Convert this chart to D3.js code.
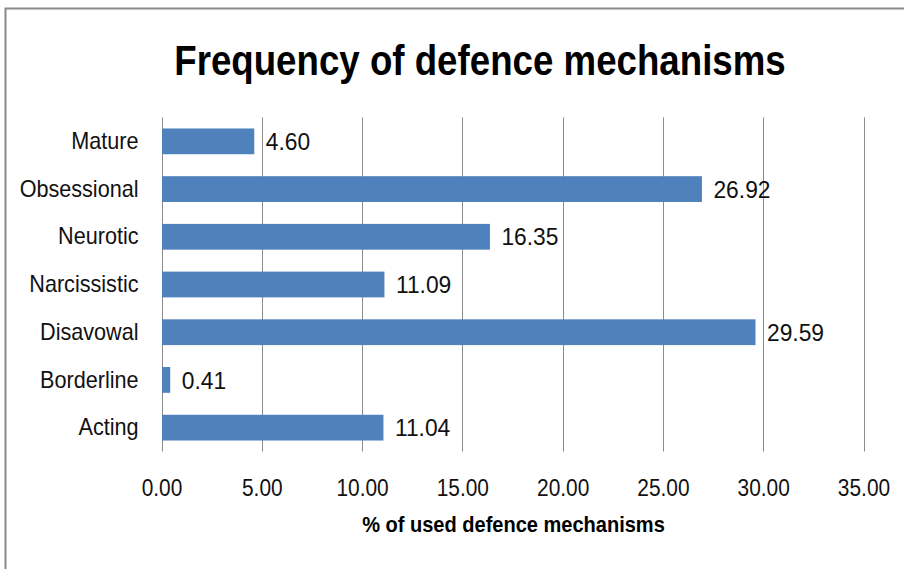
<!DOCTYPE html>
<html><head><meta charset="utf-8">
<script src="https://cdn.jsdelivr.net/npm/d3@7"></script>
<style>
html,body{margin:0;padding:0;background:#fff;}
text{font-family:"Liberation Sans Narrow","Arial Narrow","Liberation Sans",sans-serif;}
</style></head>
<body><svg id="c" width="904" height="569"></svg>
<script>
const categories = ["Mature","Obsessional","Neurotic","Narcissistic","Disavowal","Borderline","Acting"];
const values = [4.60, 26.92, 16.35, 11.09, 29.59, 0.41, 11.04];
const xTicks = [0,5,10,15,20,25,30,35];
const titleText = "Frequency of defence mechanisms";
const xTitle = "% of used defence mechanisms";

const svg = d3.select("#c");
const W = 904, H = 569;
const m = {left:161.5, right:863.5, top:117.5, bottom:451.5};

function narrow(sel, f){
  sel.each(function(){
    const L = this.getComputedTextLength();
    d3.select(this).attr("textLength", L*f).attr("lengthAdjust","spacingAndGlyphs");
  });
}

svg.append("rect").attr("width",W).attr("height",H).attr("fill","#fff");
svg.append("path").attr("d",`M5.5,${H} L5.5,8.5 L${W},8.5`)
  .attr("fill","none").attr("stroke","#8a8a8a").attr("stroke-width",2);

const x = d3.scaleLinear().domain([0,35]).range([m.left,m.right]);
const y = d3.scaleBand().domain(categories).range([m.top,m.bottom]).paddingInner(0.46).paddingOuter(0.23);

svg.append("g").selectAll("line").data(xTicks).join("line")
  .attr("x1",d=>Math.round(x(d))+0.5).attr("x2",d=>Math.round(x(d))+0.5)
  .attr("y1",m.top).attr("y2",m.bottom)
  .attr("stroke","#8c8c8c").attr("stroke-width",1);

svg.append("g").selectAll("rect").data(categories).join("rect")
  .attr("x",x(0)+0.5).attr("y",d=>y(d))
  .attr("width",(d,i)=>x(values[i])-x(0)).attr("height",y.bandwidth())
  .attr("fill","#4F81BD");

const vl = svg.append("g").selectAll("text").data(categories).join("text")
  .attr("x",(d,i)=>x(values[i])+12).attr("y",d=>y(d)+y.bandwidth()/2)
  .attr("dy","0.36em").attr("font-size",24).attr("fill","#111")
  .text((d,i)=>values[i].toFixed(2));
narrow(vl, 0.95);

const yAxis = d3.axisLeft(y).tickSize(0).tickPadding(23);
const ga = svg.append("g").attr("transform",`translate(${m.left},0)`).call(yAxis);
ga.select(".domain").remove();
ga.selectAll("text").attr("font-size",24).attr("fill","#111").attr("font-family",null);
narrow(ga.selectAll("text"), 0.9);

const xAxis = d3.axisBottom(x).tickValues(xTicks).tickSize(0).tickPadding(0).tickFormat(d3.format(".2f"));
const gx = svg.append("g").attr("transform",`translate(0,${m.bottom+27})`).call(xAxis);
gx.select(".domain").remove();
gx.selectAll("text").attr("font-size",24).attr("fill","#111").attr("font-family",null);
narrow(gx.selectAll("text"), 0.87);

const t = svg.append("text").attr("x",480).attr("y",75).attr("text-anchor","middle")
  .attr("font-size",43).attr("font-weight","bold").attr("fill","#000").text(titleText);
narrow(t, 0.853);

const xt = svg.append("text").attr("x",(m.left+m.right)/2+1).attr("y",532).attr("text-anchor","middle")
  .attr("font-size",22).attr("font-weight","bold").attr("fill","#000").text(xTitle);
narrow(xt, 0.91);
</script></body></html>
